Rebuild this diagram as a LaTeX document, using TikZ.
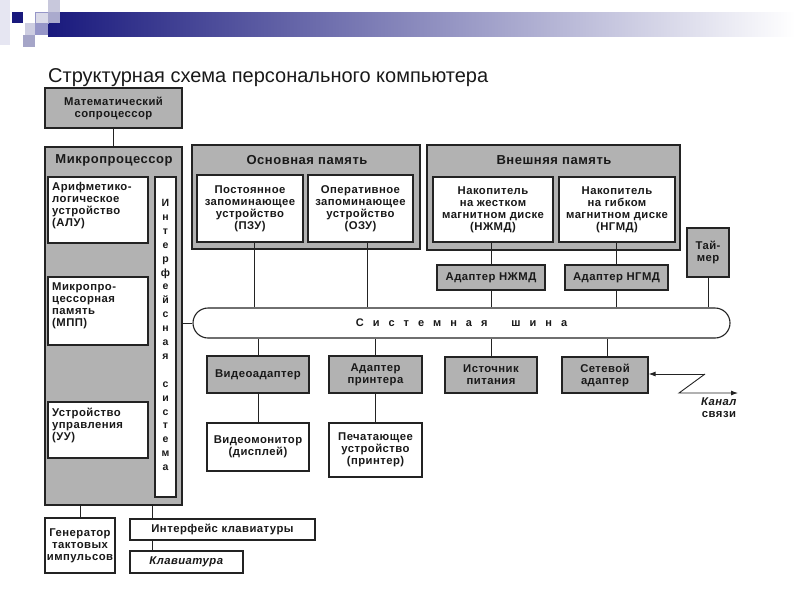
\documentclass[tikz,border=0pt]{standalone}
\usepackage{fontspec}
\setmainfont{Liberation Sans}
\newfontfamily\boxfont[LetterSpace=4]{Liberation Sans}
\usetikzlibrary{arrows.meta}
\definecolor{boxgray}{RGB}{178,178,178}
\definecolor{linec}{RGB}{35,35,35}
\definecolor{navy}{RGB}{25,25,125}
\definecolor{midlav}{RGB}{112,112,176}
\definecolor{sqA}{RGB}{230,230,242}
\definecolor{sqB}{RGB}{200,200,220}
\definecolor{sqC}{RGB}{218,218,232}
\definecolor{sqD}{RGB}{170,170,205}
\definecolor{sqE}{RGB}{205,205,225}
\definecolor{sqF}{RGB}{150,150,200}
\definecolor{sqG}{RGB}{165,165,200}
\newcommand\placebox[7]{\node[#1, minimum width={(#4)-(#2)}, minimum height={(#5)-(#3)}] (#6) at ({((#2)+(#4))/2},{((#3)+(#5))/2}) {#7};}
\begin{document}
\begin{tikzpicture}[x=1pt,y=-1pt,
  blk/.style={draw=linec, line width=1.1pt, inner sep=0pt, align=center,
    font=\boxfont\bfseries\fontsize{11.3}{12}\selectfont, text=black!90},
  gbox/.style={blk, fill=boxgray},
  wbox/.style={blk, fill=white},
  txt/.style={inner sep=0pt, align=center, font=\boxfont\bfseries\fontsize{11.3}{12}\selectfont, text=black!90},
  head/.style={inner sep=0pt, font=\boxfont\bfseries\fontsize{13}{14}\selectfont, text=black!90},
  conn/.style={draw=linec, line width=0.9pt},
]
\useasboundingbox (0,0) rectangle (800,600);
% decoration
\shade[left color=navy, middle color=midlav, right color=white] (48,12) rectangle (795,36);
\fill[sqA] (0,0) rectangle (10,45);
\fill[navy] (12,12) rectangle (23,23);
\fill[sqB] (48,0) rectangle (60,12);
\filldraw[fill=sqC, draw=sqF, line width=0.6pt] (35,12) rectangle (48,23);
\fill[sqD] (48,12) rectangle (60,23);
\fill[sqE] (25,23) rectangle (35,35);
\fill[sqF] (35,23) rectangle (48,35);
\fill[sqG] (23,35) rectangle (35,47);
% title
\node[anchor=base west, inner sep=0pt, font=\fontsize{20}{22}\selectfont, text=black!90] (title) at (48,82) {Структурная схема персонального компьютера};

% coprocessor and microprocessor
\placebox{gbox}{45}{88}{182}{128}{cop}{Математический\\сопроцессор}
\placebox{gbox}{45}{147}{182}{505}{mp}{}
\node[head] (mpt) at (114,160) {Микропроцессор};
\placebox{wbox}{48}{177}{148}{243}{alu}{}
\node[txt, anchor=north west, align=left] (alut) at (52,182) {Арифметико-\\логическое\\устройство\\(АЛУ)};
\placebox{wbox}{48}{277}{148}{345}{mpp}{}
\node[txt, anchor=north west, align=left] (mppt) at (52,283) {Микропро-\\цессорная\\память\\(МПП)};
\placebox{wbox}{48}{402}{148}{458}{uu}{}
\node[txt, anchor=north west, align=left] (uut) at (52,408) {Устройство\\управления\\(УУ)};
\placebox{wbox}{155}{177}{176}{497}{ifs}{}
\node[txt, font=\bfseries\fontsize{10.5}{13.9}\selectfont] (ifst) at (165.5,335) {И\\н\\т\\е\\р\\ф\\е\\й\\с\\н\\а\\я\\[13.9pt]с\\и\\с\\т\\е\\м\\а};
\draw[conn] (cop.south) -- (mp.north);

% main memory
\placebox{gbox}{192}{145}{420}{249}{om}{}
\node[head] (omt) at (307,160) {Основная память};
\placebox{wbox}{197}{175}{303}{242}{pzu}{Постоянное\\запоминающее\\устройство\\(ПЗУ)}
\placebox{wbox}{308}{175}{413}{242}{ozu}{Оперативное\\запоминающее\\устройство\\(ОЗУ)}

% external memory
\placebox{gbox}{427}{145}{680}{250}{vm}{}
\node[head] (vmt) at (554,160) {Внешняя память};
\placebox{wbox}{433}{177}{553}{242}{hdd}{Накопитель\\на жестком\\магнитном диске\\(НЖМД)}
\placebox{wbox}{559}{177}{675}{242}{fdd}{Накопитель\\на гибком\\магнитном диске\\(НГМД)}
\placebox{gbox}{437}{265}{545}{290}{ahdd}{Адаптер НЖМД}
\placebox{gbox}{565}{265}{668}{290}{afdd}{Адаптер НГМД}
\placebox{gbox}{687}{228}{729}{277}{tmr}{Тай-\\мер}

% bus
\node[blk, fill=white, rounded corners=15pt, minimum width=537, minimum height=30, font=\bfseries\fontsize{11}{12}\selectfont] (bus) at (461.5,323)
  {С\hspace{9pt}и\hspace{9pt}с\hspace{9pt}т\hspace{9pt}е\hspace{9pt}м\hspace{9pt}н\hspace{9pt}а\hspace{9pt}я\hspace{24pt}ш\hspace{9pt}и\hspace{9pt}н\hspace{9pt}а};

\draw[conn] ([xshift=4pt]pzu.south) -- ([xshift=4pt]pzu.south |- bus.north);
\draw[conn] ([xshift=7pt]ozu.south) -- ([xshift=7pt]ozu.south |- bus.north);
\draw[conn] (hdd.south -| ahdd.north) -- (ahdd.north);
\draw[conn] (fdd.south -| afdd.north) -- (afdd.north);
\draw[conn] (ahdd.south) -- (ahdd.south |- bus.north);
\draw[conn] (afdd.south) -- (afdd.south |- bus.north);
\draw[conn] (tmr.south) -- (tmr.south |- bus.north);
\draw[conn] (mp.east |- bus.west) -- (bus.west);

% devices below bus
\placebox{gbox}{207}{356}{309}{393}{vad}{Видеоадаптер}
\placebox{gbox}{329}{356}{422}{393}{pad}{Адаптер\\принтера}
\placebox{gbox}{445}{357}{537}{393}{pwr}{Источник\\питания}
\placebox{gbox}{562}{357}{648}{393}{net}{Сетевой\\адаптер}
\placebox{wbox}{207}{423}{309}{471}{mon}{Видеомонитор\\(дисплей)}
\placebox{wbox}{329}{423}{422}{477}{prn}{Печатающее\\устройство\\(принтер)}
\draw[conn] (vad.north) -- (vad.north |- bus.south);
\draw[conn] (pad.north) -- (pad.north |- bus.south);
\draw[conn] (pwr.north) -- (pwr.north |- bus.south);
\draw[conn] ([xshift=2pt]net.north) -- ([xshift=2pt]net.north |- bus.south);
\draw[conn] (vad.south) -- (mon.north);
\draw[conn] (pad.south) -- (prn.north);

% network channel
\coordinate (z1) at (705,374);
\coordinate (z2) at (679,393);
\coordinate (z3) at (738,393);
\draw[conn, -{Latex[length=7pt,width=5pt]}] (z1) -- (net.east |- z1);
\draw[conn, -{Latex[length=7pt,width=5pt]}] (z1) -- (z2) -- (z3);
\node[txt, align=center, anchor=north] (chan) at (719,398) {\textit{Канал}\\связи};

% bottom left
\placebox{wbox}{45}{518}{115}{573}{gen}{Генератор\\тактовых\\импульсов}
\placebox{wbox}{130}{519}{315}{540}{kbi}{Интерфейс клавиатуры}
\placebox{wbox}{130}{551}{243}{573}{kb}{\textit{Клавиатура}}
\coordinate (kx) at (152,530);
\draw[conn] (gen.north) -- (gen.north |- mp.south);
\draw[conn] (kx |- mp.south) -- (kx |- kbi.north);
\draw[conn] (kx |- kbi.south) -- (kx |- kb.north);
\end{tikzpicture}
\end{document}
